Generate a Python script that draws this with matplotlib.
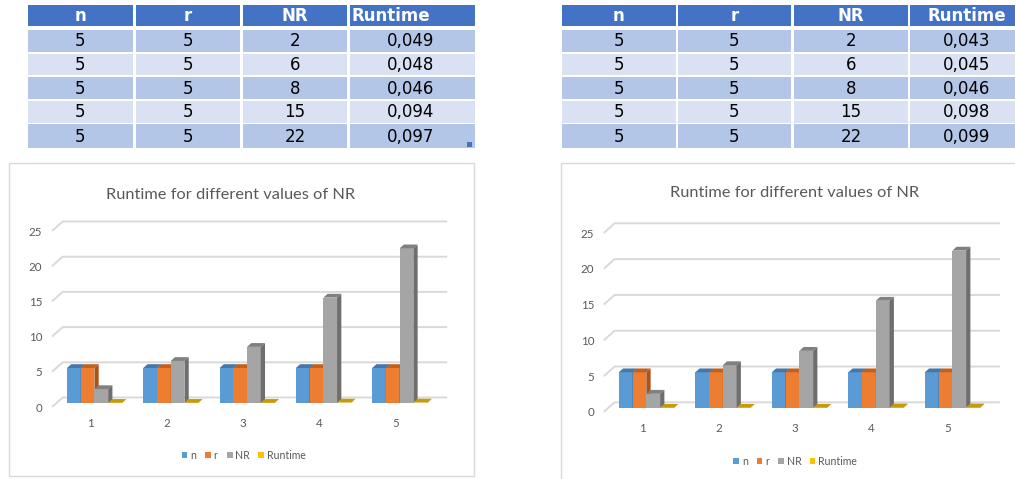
import matplotlib
matplotlib.use("Agg")
import matplotlib.pyplot as plt
from matplotlib.patches import Rectangle, Polygon

# ---- data -------------------------------------------------------------
categories = ["1", "2", "3", "4", "5"]
series_names = ["n", "r", "NR", "Runtime"]
n_values = [5, 5, 5, 5, 5]
r_values = [5, 5, 5, 5, 5]
nr_values = [2, 6, 8, 15, 22]
runtime_run1 = [0.049, 0.048, 0.046, 0.094, 0.097]
runtime_run2 = [0.043, 0.045, 0.046, 0.098, 0.099]
y_ticks = [0, 5, 10, 15, 20, 25]
title = "Runtime for different values of NR"

# ---- style ------------------------------------------------------------
W, H = 1015, 479
FRONT = ["#5B9BD5", "#ED7D31", "#A5A5A5", "#FFC000"]
TOP = ["#4677A8", "#C2601F", "#808080", "#C99A06"]
SIDE = ["#3D6A97", "#A9531B", "#6E6E6E", "#B08600"]
HEADER = "#4472C4"
ROW_DARK = "#B4C6E7"
ROW_LIGHT = "#D9E1F2"
TEXT_GREY = "#595959"
GRID = "#D9D9D9"
CHART_FONT = ["Lato", "DejaVu Sans"]

plt.rcParams["font.family"] = ["DejaVu Sans"]

fig = plt.figure(figsize=(W / 100, H / 100), dpi=100)
bg = fig.add_axes([0, 0, 1, 1])
bg.set_xlim(0, W)
bg.set_ylim(H, 0)
bg.axis("off")


def fmt_runtime(v):
    return f"{v:.3f}".replace(".", ",")


def draw_table(cols, runtime, header_runtime_x, header_runtime_ha, runtime_x):
    head_top, head_h = 5, 21
    row_top, row_pitch, row_h = 30, 23.6, 21.8
    for (l, r) in cols:
        bg.add_patch(Rectangle((l, head_top), r - l, head_h, color=HEADER, lw=0))
    centers = [(l + r) / 2 for (l, r) in cols[:3]]
    for name, cx in zip(series_names[:3], centers):
        bg.text(cx, head_top + head_h / 2 + 0.5, name, color="white", fontsize=12,
                fontweight="bold", ha="center", va="center")
    bg.text(header_runtime_x, head_top + head_h / 2 + 0.5, series_names[3], color="white",
            fontsize=12, fontweight="bold", ha=header_runtime_ha, va="center")
    columns = [[str(v) for v in n_values], [str(v) for v in r_values],
               [str(v) for v in nr_values], [fmt_runtime(v) for v in runtime]]
    for k in range(len(categories)):
        top = row_top + row_pitch * k
        h = row_h if k < len(categories) - 1 else 23.2
        color = ROW_DARK if k % 2 == 0 else ROW_LIGHT
        for (l, r) in cols:
            bg.add_patch(Rectangle((l, top), r - l, h, color=color, lw=0))
        xs = centers + [runtime_x]
        for c, cx in enumerate(xs):
            bg.text(cx, top + h / 2 + 0.5, columns[c][k], color="black", fontsize=12,
                    ha="center", va="center")


draw_table([(28, 133), (136, 240), (243, 347), (350, 475)], runtime_run1,
           352, "left", 411)
bg.add_patch(Rectangle((467, 142), 5, 5, color=HEADER, lw=0))
draw_table([(562, 676), (678, 791), (794, 908), (910, 1030)], runtime_run2,
           967, "center", 967)

# chart frames
bg.add_patch(Rectangle((9, 163), 465, 313, facecolor="white", edgecolor=GRID, lw=1))
bg.add_patch(Rectangle((561, 163), 480, 330, facecolor="white", edgecolor=GRID, lw=1))

# ---- 3-D style clustered columns --------------------------------------
DX, DY = 0.14, 1.35          # full floor depth in data units
F0, F1 = 0.4, 0.8            # bar depth span (fraction of floor depth)
BW = 0.18                    # bar width in category units
GRID_END = 5.68


def draw_chart(x_left, x_sp, y_zero, ppu, title_xy, legend_xy, runtime):
    # axes spanning x 0.5..5.5 and y 0..25 of the front plane
    width = 5 * x_sp
    height = 25 * ppu
    ax = fig.add_axes([x_left / W, 1 - y_zero / H, width / W, height / H])
    ax.set_xlim(0.5, 5.5)
    ax.set_ylim(0, 25)
    ax.patch.set_visible(False)
    for s in ax.spines.values():
        s.set_visible(False)
    pos = list(range(1, len(categories) + 1))
    ax.set_xticks(pos, categories)
    ax.set_yticks(y_ticks, [str(t) for t in y_ticks])
    ax.tick_params(axis="both", length=0, colors=TEXT_GREY, labelsize=8.3)
    ax.tick_params(axis="x", pad=8)
    ax.tick_params(axis="y", pad=7)
    for lab in ax.get_xticklabels() + ax.get_yticklabels():
        lab.set_family(CHART_FONT)

    for t in y_ticks:
        ax.plot([0.5, 0.5 + DX, GRID_END], [t, t + DY, t + DY], color=GRID,
                lw=1.4, clip_on=False, zorder=1, solid_capstyle="butt")

    values = [n_values, r_values, nr_values, runtime]
    dxb, dyb = (F1 - F0) * DX, (F1 - F0) * DY
    base = F0 * DY
    for k, vals in enumerate(values):
        xs = [p - 2 * BW + k * BW + F0 * DX for p in pos]
        z = 3 + k
        ax.bar(xs, vals, width=BW, bottom=base, align="edge", color=FRONT[k],
               lw=0, zorder=z, clip_on=False)
        for x, v in zip(xs, vals):
            top = base + v
            ax.add_patch(Polygon([(x, top), (x + BW, top), (x + BW + dxb, top + dyb),
                                  (x + dxb, top + dyb)], closed=True, facecolor=TOP[k],
                                 lw=0, zorder=z, clip_on=False))
            ax.add_patch(Polygon([(x + BW, base), (x + BW, top),
                                  (x + BW + dxb, top + dyb), (x + BW + dxb, base + dyb)],
                                 closed=True, facecolor=SIDE[k], lw=0, zorder=z,
                                 clip_on=False))

    bg.text(title_xy[0], title_xy[1], title, color=TEXT_GREY, fontsize=11.8,
            family=CHART_FONT, ha="center", va="center")

    lx, ly = legend_xy
    offsets = [0, 23.3, 45.2, 76.4]
    for k, name in enumerate(series_names):
        x0 = lx + offsets[k]
        bg.add_patch(Rectangle((x0, ly - 3), 5.8, 6, color=FRONT[k], lw=0))
        bg.text(x0 + 8.5, ly + 0.3, name, color=TEXT_GREY, fontsize=7.6,
                family=CHART_FONT, ha="left", va="center")


draw_chart(52, 76.3, 407, 7.04, (231, 195), (181.7, 455), runtime_run1)
draw_chart(603.8, 76.5, 412, 7.16, (795, 193), (733.3, 461), runtime_run2)

fig.savefig("out.png", dpi=100)
